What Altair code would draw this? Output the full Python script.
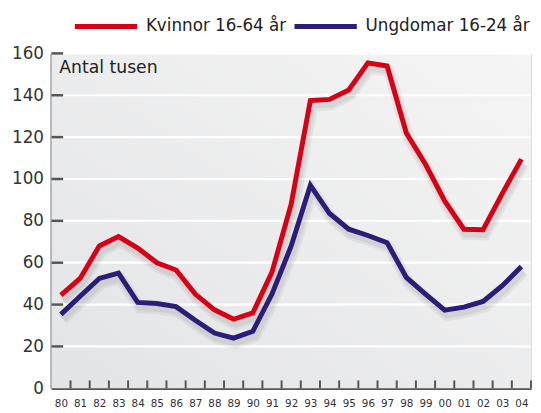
import altair as alt
import pandas as pd

years = list(range(1980, 2005))
kvinnor = [44.5, 52.5, 68, 72.5, 67, 60, 56.5, 45, 37.5, 33, 36, 55.5, 88,
           137.5, 138, 142.5, 155.5, 154, 122, 107, 89.5, 76, 75.8, 93, 109.5]
ungdomar = [35.3, 44, 52.5, 55, 41, 40.5, 39, 32.5, 26.4, 24, 27.2, 45, 68,
            97, 83.5, 76, 73, 69.5, 53, 45, 37.3, 38.8, 41.5, 49, 58.2]
series_names = ["Kvinnor 16-64 år", "Ungdomar 16-24 år"]
series_colors = ["#d70016", "#2c1d78"]
y_ticks = [0, 20, 40, 60, 80, 100, 120, 140, 160]
y_title = "Antal tusen"

FONT = "DejaVu Sans"
W, H = 487, 340

rows = []
for name, vals in zip(series_names, [kvinnor, ungdomar]):
    for yr, v in zip(years, vals):
        rows.append({"year": yr, "value": v, "series": name})
df = pd.DataFrame(rows)

grid_df = pd.DataFrame({"v": y_ticks[1:]})
xtick_df = pd.DataFrame({"b": [y + 0.5 for y in years]})
bg_df = pd.DataFrame({"x0": [years[0] - 0.5], "x1": [years[-1] + 0.5],
                      "y0": [y_ticks[0]], "y1": [y_ticks[-1]]})

xscale = alt.Scale(domain=[years[0] - 0.5, years[-1] + 0.5], nice=False, zero=False)
yscale = alt.Scale(domain=[y_ticks[0], y_ticks[-1]], nice=False)

x_axis = alt.Axis(values=years, labelExpr="substring(toString(datum.value), 2)",
                  ticks=False, grid=False, domainColor="#555555", domainWidth=2.5,
                  labelFont=FONT, labelFontSize=10.5, labelColor="#333333",
                  labelPadding=11, title=None, labelFlush=False,
                  labelOverlap=False, labelSeparation=0, labelBound=False)
y_axis = alt.Axis(values=y_ticks, ticks=False, grid=False, domainColor="#555555",
                  domainWidth=2.5, labelFont=FONT, labelFontSize=17,
                  labelColor="#333333", labelPadding=8, title=None,
                  labelOverlap=False)


def X(field):
    return alt.X(field, scale=xscale, axis=x_axis)


def Y(field):
    return alt.Y(field, scale=yscale, axis=y_axis)


bg = alt.Chart(bg_df).mark_rect(
    color=alt.LinearGradient(
        gradient="linear", x1=0, y1=1, x2=1, y2=0,
        stops=[alt.GradientStop(offset=0, color="#e3e4e6"),
               alt.GradientStop(offset=1, color="#f5f5f5")])
).encode(x=X("x0:Q"), x2="x1:Q", y=Y("y0:Q"), y2="y1:Q")

grid = alt.Chart(grid_df).mark_rule(color="white", strokeWidth=2.2).encode(
    y=Y("v:Q"), x=alt.value(0), x2=alt.value(W)
)

yticks = alt.Chart(grid_df).mark_rule(color="#555555", strokeWidth=2.5).encode(
    y=Y("v:Q"), x=alt.value(0), x2=alt.value(12)
)

xticks = alt.Chart(xtick_df).mark_rule(color="#555555", strokeWidth=2).encode(
    x=X("b:Q"), y=alt.value(H), y2=alt.value(H - 8)
)

shadow1 = alt.Chart(df).mark_line(color="#000000", opacity=0.05, strokeWidth=12,
                                  xOffset=2, yOffset=5).encode(
    x=X("year:Q"), y=Y("value:Q"), detail="series:N"
)
shadow2 = alt.Chart(df).mark_line(color="#000000", opacity=0.06, strokeWidth=7,
                                  xOffset=2, yOffset=5).encode(
    x=X("year:Q"), y=Y("value:Q"), detail="series:N"
)

lines = alt.Chart(df).mark_line(strokeWidth=5).encode(
    x=X("year:Q"),
    y=Y("value:Q"),
    color=alt.Color("series:N",
                    scale=alt.Scale(domain=series_names, range=series_colors),
                    legend=alt.Legend(orient="none", direction="horizontal",
                                      legendX=21, legendY=-62, title=None,
                                      symbolType="stroke", symbolSize=4000,
                                      symbolStrokeWidth=5, labelFont=FONT,
                                      labelFontSize=17, labelColor="#222222",
                                      labelOffset=6, columnPadding=-3,
                                      labelLimit=400, padding=0)),
)

title = alt.Chart(bg_df).mark_text(
    text=y_title, font=FONT, fontSize=17.5, color="#222222",
    align="left", baseline="top", dx=8, dy=6
).encode(x=X("x0:Q"), y=Y("y1:Q"))

chart = alt.layer(bg, grid, yticks, xticks, shadow1, shadow2, lines, title).properties(
    width=W, height=H,
    autosize=alt.AutoSizeParams(type="none"),
    padding={"left": 44, "top": 43, "right": 2, "bottom": 22},
).configure_view(stroke=None).configure_axis(labelOverlap=False).configure(background="white")

chart.save("out.html", embed_options={"renderer": "svg", "actions": False})
